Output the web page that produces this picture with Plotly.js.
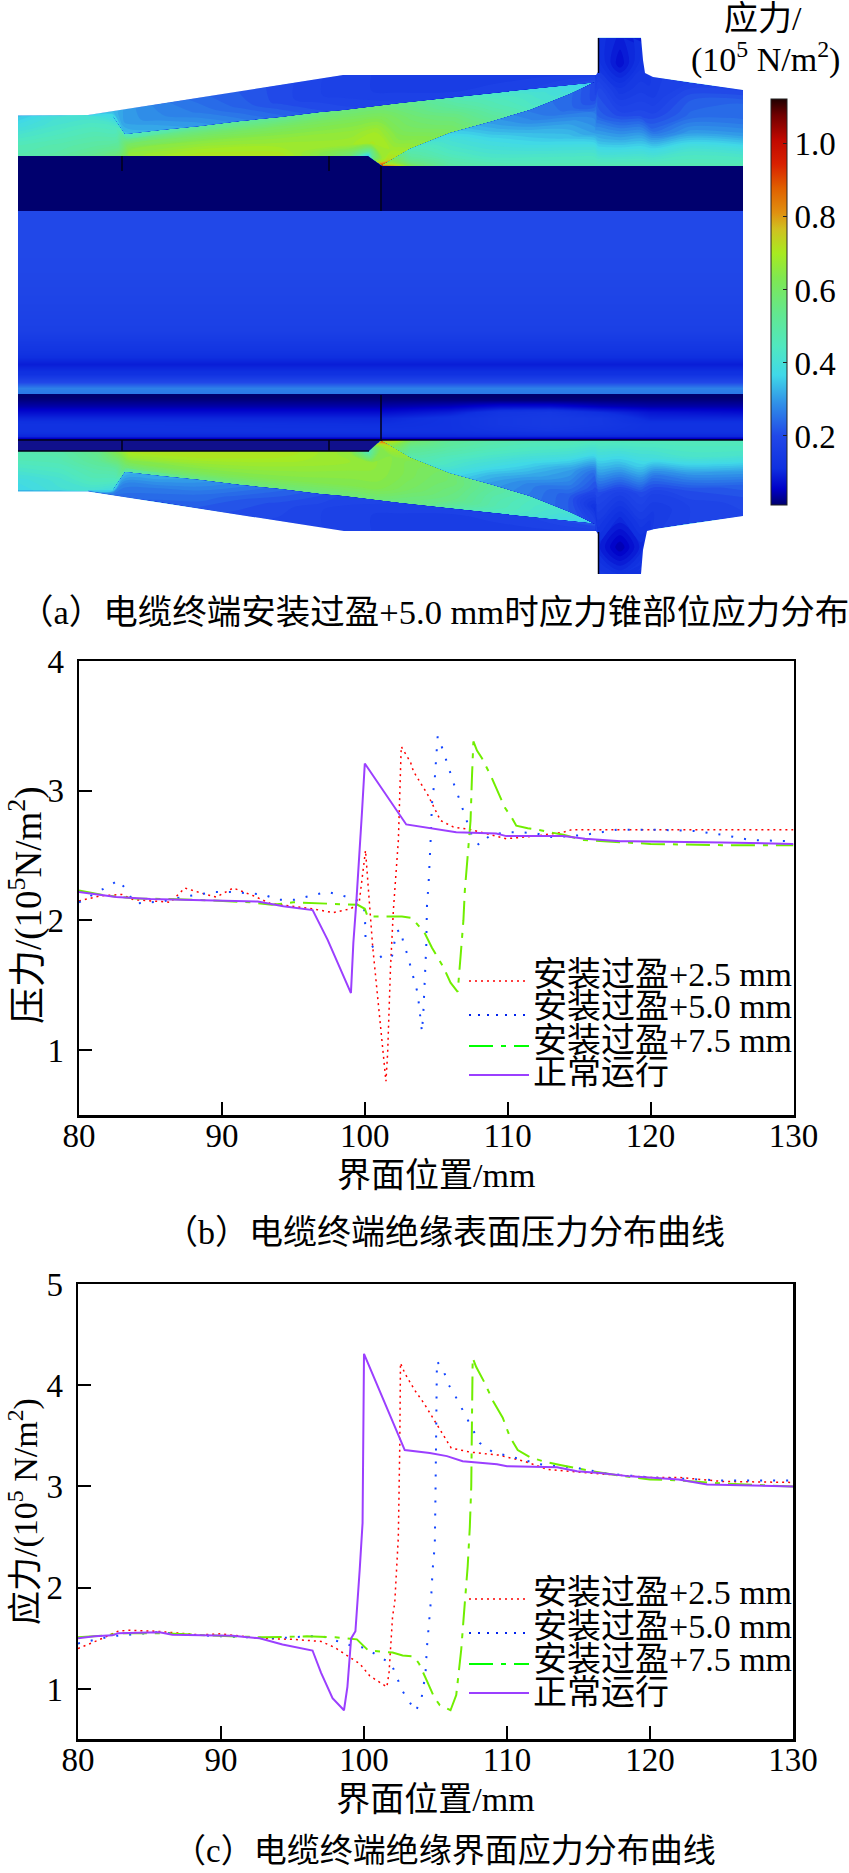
<!DOCTYPE html>
<html>
<head>
<meta charset="utf-8">
<script src="https://cdn.plot.ly/plotly-3.0.1.min.js"></script>
<style>body{margin:0;background:#fff}</style>
</head>
<body>
<div id="chart" style="width:849px;height:1873px"></div>
<script>
// curve data, panel b (pressure)
const pressX25 = [80,81.5,83,83.8,86.4,87.4,88.9,89.6,90.8,92.2,93.4,96.3,97.8,99,99.6,100.05,100.55,101.05,101.48,101.6,101.8,102,102.35,102.55,103.2,103.4,104.4,105.3,106.2,107.4,108.8,109.9,111.9,113.9,114.5,120,130];
const pressY25 = [2.15,2.19,2.2,2.16,2.14,2.25,2.2,2.18,2.25,2.19,2.13,2.09,2.06,2.09,2.13,2.54,1.8,1.27,0.76,0.98,1.64,2.08,2.62,3.34,3.22,3.15,2.97,2.77,2.72,2.7,2.66,2.63,2.65,2.68,2.7,2.7,2.7];
const pressX50 = [80,81,81.9,82.8,83.4,83.9,85,86,87.2,88.3,89.5,90.6,91.8,92.9,93.9,95.1,96.2,97.4,98.5,99.6,100,100.05,100.6,101.2,101.9,102.05,102.2,102.5,102.7,103,103.2,103.45,103.7,103.8,103.9,104,104.1,104.2,104.3,104.35,104.47,104.6,104.7,104.9,105,105.1,105.45,105.7,106,106.3,106.6,106.9,107.2,107.5,108,108.8,109.9,111,112,113.2,115.4,116.6,117.7,120,123,125,127,130];
const pressY50 = [2.14,2.2,2.25,2.31,2.22,2.13,2.14,2.15,2.18,2.2,2.22,2.22,2.21,2.2,2.16,2.16,2.19,2.22,2.19,2.15,2.07,1.87,1.79,1.71,1.72,1.82,1.91,1.93,1.83,1.73,1.64,1.54,1.44,1.34,1.24,1.14,1.3,1.6,1.8,2.11,2.3,2.6,2.9,3.1,3.3,3.42,3.32,3.23,3.13,3.03,2.94,2.84,2.75,2.65,2.58,2.66,2.68,2.68,2.67,2.64,2.66,2.68,2.7,2.7,2.69,2.66,2.62,2.61];
const pressX75 = [80,82,84,88,92,93.5,95,97,99.5,100,100.2,101.9,102.6,103.3,103.7,104.2,104.7,105.5,106,106.5,106.7,106.9,107,107.2,107.4,107.5,107.6,107.85,108.2,108.8,109.35,109.8,110.3,110.6,111.4,112.1,112.95,113.9,115.3,116.9,117.9,120,125,130];
const pressY75 = [2.23,2.19,2.17,2.16,2.14,2.12,2.14,2.13,2.12,2.09,2.03,2.03,2.03,2.02,1.97,1.9,1.79,1.64,1.52,1.45,1.72,2,2.23,2.52,2.77,3.11,3.38,3.31,3.25,3.12,2.98,2.87,2.79,2.73,2.71,2.7,2.68,2.66,2.62,2.61,2.6,2.59,2.58,2.58];
const pressXNormal = [80,82.6,85,90.3,92.5,94.3,96.35,97.4,97.6,99.03,99.2,99.4,99.8,100,102.9,104.1,106.4,109.2,109.9,113.9,115.4,117.9,118.6,125,130];
const pressYNormal = [2.22,2.18,2.165,2.15,2.145,2.11,2.08,1.85,1.8,1.44,1.83,2.13,2.83,3.21,2.74,2.72,2.68,2.67,2.65,2.65,2.63,2.61,2.61,2.6,2.59];

// curve data, panel c (stress)
const stressX25 = [80,81.3,82.8,83.5,85.5,88.5,90,92.7,95,97,97.95,99,99.7,100.4,101.6,101.75,102,102.15,102.4,102.5,102.55,102.85,103.55,104.2,105.2,105.7,106.1,107.4,109.4,111.2,111.6,112.8,113.5,116,120,122,125,130];
const stressY25 = [1.4,1.475,1.57,1.58,1.57,1.535,1.545,1.5,1.49,1.47,1.41,1.31,1.25,1.13,1.02,1.16,1.72,1.85,2.5,3.39,4.22,4.12,3.95,3.82,3.59,3.47,3.38,3.34,3.31,3.25,3.23,3.17,3.16,3.13,3.09,3.09,3.05,3.04];
const stressX50 = [80,81.2,82.3,85.5,88.5,93.75,96.1,97.1,98.2,99.3,100,101,101.9,102.3,102.6,103.1,103.6,104,104.3,104.4,104.55,104.7,104.8,104.95,105,105.1,105.6,105.9,106.4,106.8,107.25,107.7,108.1,109,110.1,111.2,112.3,113.5,114.6,115.8,116.8,120,125,130];
const stressY50 = [1.45,1.49,1.52,1.56,1.53,1.5,1.52,1.52,1.47,1.42,1.41,1.33,1.25,1.12,1,0.89,0.78,0.89,1.15,1.41,1.65,1.91,2.18,2.42,2.93,4.24,4.13,4.01,3.89,3.78,3.66,3.54,3.43,3.34,3.3,3.26,3.22,3.2,3.19,3.16,3.13,3.09,3.06,3.06];
const stressX75 = [80,82,83,86,89,93,96,98,99.5,100.3,102,102.7,103.5,103.85,104.4,104.9,105.3,106.05,106.45,106.8,106.95,107.1,107.25,107.4,107.5,107.55,107.6,107.85,108.45,109,109.7,110.2,110.75,111.6,112.5,113.8,115.6,117.7,120,122,125,130];
const stressY75 = [1.51,1.53,1.55,1.55,1.53,1.51,1.52,1.51,1.49,1.38,1.36,1.33,1.32,1.25,1.08,0.92,0.84,0.79,0.94,1.39,1.67,1.91,2.21,2.6,3,3.66,4.27,4.18,4.02,3.85,3.68,3.49,3.36,3.29,3.25,3.21,3.16,3.11,3.07,3.06,3.03,3];
const stressXNormal = [80,81.15,82.4,82.8,85.7,86.6,90.8,92.7,94.3,96.4,97,97.8,98.6,98.84,99.1,99.4,99.7,99.9,100,102.85,104.6,105.8,106.9,109.3,110,113.5,114.9,116.7,118.6,122,124,130];
const stressYNormal = [1.5,1.52,1.53,1.55,1.56,1.535,1.525,1.5,1.44,1.38,1.16,0.91,0.79,1.02,1.5,1.57,2.18,2.64,4.31,3.36,3.33,3.3,3.25,3.22,3.2,3.19,3.15,3.13,3.1,3.07,3.02,3];

const seriesNames = ['安装过盈+2.5 mm','安装过盈+5.0 mm','安装过盈+7.5 mm','正常运行'];
const xTicks = [80,90,100,110,120,130];
const pressTicks = [1,2,3,4];
const stressTicks = [1,2,3,4,5];
const barTicks = [0.2,0.4,0.6,0.8,1.0];

// stress field of panel a. Each region of the cone gets its own carpet (image coords),
// so the sharp wedge edges stay sharp. Rows run from the outer edge to the band side.
const wedgeRows = [0,.25,.5,.75,.92,1];
const wedgeOuterX = [18,60,88,113,125,200,280,350,385,420,460,500,540,570,595];
const wedgeOuterY = [115.5,115.5,115,116,134,126,117,109,105,101,97,92.5,88,85,82];
const wedgeInnerX = [18,60,100,120,130,200,280,350,368,383,450,490,530,570,595];
const wedgeInnerY = [156,156,156,156,156,156,156,156,156,166,133,122,110,94,82];
const wedgeZUpper = [
 [.34,.4,.4,.36,.44,.5,.52,.56,.56,.52,.46,.42,.38,.36,.33],
 [.38,.42,.44,.43,.54,.58,.6,.62,.62,.58,.5,.45,.41,.38,.34],
 [.42,.45,.47,.47,.6,.64,.65,.66,.68,.62,.55,.47,.42,.38,.34],
 [.46,.48,.5,.52,.64,.68,.68,.68,.7,.68,.58,.5,.43,.39,.35],
 [.47,.49,.53,.56,.66,.7,.7,.6,.5,.72,.6,.52,.44,.4,.36],
 [.48,.5,.54,.58,.66,.71,.71,.58,.34,.95,.62,.5,.44,.4,.36]
];
const wedgeZLower = [
 [.36,.4,.4,.38,.48,.54,.56,.56,.56,.54,.48,.44,.4,.37,.33],
 [.38,.41,.45,.45,.58,.62,.63,.63,.63,.6,.54,.47,.42,.38,.34],
 [.42,.44,.48,.5,.63,.66,.66,.65,.65,.63,.56,.48,.43,.39,.34],
 [.46,.47,.52,.58,.68,.7,.69,.67,.66,.64,.58,.5,.44,.4,.35],
 [.47,.48,.54,.64,.7,.71,.71,.66,.5,.7,.58,.51,.45,.4,.36],
 [.48,.49,.55,.66,.7,.71,.71,.66,.4,.92,.6,.5,.45,.4,.36]
];

const capRows = [0,.5,1];
const capX = [88,113,125,160,200,240,280,320,343,400,460,530,598];
const capOuterY = [115,111,109,104,97.5,91,85,78.6,75,75,75,75,75];
const capInnerY = [116,116,134,130,126,121,117,112,110,103,96.5,89,82];
const capZUpper = [
 [.36,.33,.3,.27,.24,.22,.2,.18,.17,.16,.16,.16,.17],
 [.36,.34,.3,.28,.26,.23,.2,.18,.17,.16,.16,.17,.19],
 [.37,.38,.34,.32,.3,.27,.24,.21,.2,.18,.17,.18,.22]
];
const capZLower = [
 [.3,.25,.24,.23,.22,.2,.19,.18,.17,.16,.16,.16,.17],
 [.32,.28,.27,.26,.25,.22,.2,.18,.17,.16,.16,.17,.19],
 [.37,.36,.34,.32,.3,.27,.24,.21,.19,.18,.17,.18,.24]
];

const flankRows = [0,.2,.4,.6,.8,1];
const flankX = [383,410,450,490,530,570,595,598,620,641,653,690,743];
const flankOuterYUpper = [165,149,133,122,110,94,82,38,38,38,77,83,90];
const flankInnerYUpper = [166,166,166,166,166,166,166,166,166,166,166,166,166];
const flankOuterYLower = [441,457,473,484,496,512,524,574,574,574,529,523,516];
const flankInnerYLower = [440,440,440,440,440,440,440,440,440,440,440,440,440];
const flankZUpper = [
 [.7,.45,.36,.3,.26,.24,.2,.12,.09,.12,.16,.18,.19],
 [.72,.48,.4,.33,.28,.24,.2,.13,.07,.13,.16,.22,.24],
 [.74,.5,.42,.37,.33,.3,.27,.2,.14,.16,.19,.24,.25],
 [.76,.52,.44,.4,.37,.34,.3,.23,.2,.2,.24,.3,.3],
 [.8,.56,.47,.43,.42,.41,.4,.33,.32,.33,.36,.41,.4],
 [.9,.62,.5,.48,.47,.47,.47,.47,.47,.47,.47,.47,.47]
];
const flankZLower = [
 [.7,.47,.38,.3,.26,.22,.18,.15,.12,.15,.16,.18,.19],
 [.72,.5,.42,.33,.27,.22,.12,.1,.04,.1,.15,.18,.2],
 [.74,.52,.44,.38,.32,.27,.2,.15,.1,.15,.18,.21,.23],
 [.76,.54,.47,.42,.37,.31,.24,.2,.17,.2,.26,.3,.31],
 [.8,.57,.5,.46,.43,.4,.36,.33,.32,.35,.39,.42,.42],
 [.9,.62,.52,.49,.47,.47,.46,.46,.46,.46,.46,.46,.46]
];

// flat backing under the carpets, it shows only in the seams between them
const backX = [18,19,742,743];
const backY = [38,39,573,574];
const backZ = [[.33,.33,.33,.33],[.33,.33,.33,.33],[.33,.33,.33,.33],[.33,.33,.33,.33]];
const coreX = [18,19,742,743];
const coreY = [212,250,290,330,350,364,374,382,388,393,395];
const coreZ = [
 [.2,.2,.2,.2],[.2,.2,.2,.2],[.19,.19,.19,.19],[.17,.17,.17,.17],[.13,.13,.13,.13],[.09,.09,.09,.09],
 [.12,.12,.12,.12],[.2,.2,.2,.2],[.27,.27,.27,.27],[.26,.26,.26,.26],[.2,.2,.2,.2]
];
const sheathX = [18,381,450,500,550,600,650,742,743];
const sheathY = [396,400,406,412,418,424,430,436,439.5];
const sheathZ = [
 [.01,.01,.01,.01,.01,.01,.01,.01,.01],
 [.02,.02,.02,.02,.02,.02,.02,.02,.02],
 [.04,.04,.05,.07,.07,.05,.04,.04,.04],
 [.07,.07,.09,.13,.14,.11,.08,.07,.07],
 [.1,.1,.12,.14,.15,.14,.1,.1,.1],
 [.12,.11,.12,.14,.15,.14,.12,.12,.12],
 [.12,.12,.12,.13,.14,.13,.12,.12,.12],
 [.1,.1,.1,.1,.1,.1,.1,.1,.1],
 [.01,.01,.01,.01,.01,.01,.01,.01,.01]
];
const semiconX = [18,368,382,743,743,18,18];
const semiconY = [156,156,166,166,211,211,156];
const thinBandX = [18,381,369,18,18];
const thinBandY = [440,440,451,451,440];
const maskTopX = [5,760,760,743,653,645,643,641,598,598,596,343,88,18,5,5];
const maskTopY = [25,25,90,90,77,73,60,37.5,37.5,72,75,75,115,115.5,115.5,25];
const maskBottomX = [5,18,88,344,596,598,598,641,643,647,655,743,760,760,5,5];
const maskBottomY = [491.5,491.5,491.5,531,531,534,574,574,550,531,529,516,516,590,590,491.5];
const maskLeftX = [0,18,18,0,0];
const maskLeftY = [25,25,590,590,25];
const maskRightX = [743,770,770,743,743];
const maskRightY = [25,25,590,590,25];
const seamX = [381,381,null,381,381,null,122,122,null,329,329,null,122,122,null,329,329,null,18,743,null,18,369,null,598.5,598.5,null,598.5,598.5];
const seamY = [166,211,null,395,440,null,156,171,null,156,171,null,440,451,null,440,451,null,440,440,null,451,451,null,38,73,null,532,574];

const fieldMin = 0.011, fieldMax = 1.123;
const fieldScale = [
 [0,'#00006e'],[0.04,'#0000c8'],[0.09,'#0f30e0'],[0.17,'#2148e8'],[0.25,'#3090e8'],
 [0.32,'#40d8e8'],[0.39,'#50e8c0'],[0.47,'#62e890'],[0.56,'#80e850'],[0.62,'#a8ea20'],
 [0.68,'#d0c020'],[0.72,'#e09010'],[0.78,'#e06000'],[0.84,'#d82000'],[0.9,'#c00800'],
 [0.96,'#700000'],[1,'#200000']
];

const W = 849, H = 1873;
const px = v => v / W;
const py = v => 1 - v / H;
const mirrorY = v => 606 - v;
const textFont = 'Liberation Serif, "Noto Sans CJK SC", serif';

function label(text, x, y, size, anchor, angle) {
    return {
        text: text, xref: 'paper', yref: 'paper', x: px(x), y: py(y),
        xanchor: anchor || 'center', yanchor: 'middle', showarrow: false,
        textangle: angle || 0, font: { family: textFont, size: size, color: '#000' }
    };
}

function legendShape(y, color, dash, width) {
    return {
        type: 'line', xref: 'paper', yref: 'paper', x0: px(469), x1: px(529), y0: py(y), y1: py(y),
        line: { color: color, dash: dash, width: width }
    };
}

function curve(x, y, name, color, dash, width, xa, ya) {
    return {
        x: x, y: y, name: name, xaxis: xa, yaxis: ya, type: 'scatter', mode: 'lines',
        line: { color: color, dash: dash, width: width, shape: 'linear' }, showlegend: false
    };
}

function polygon(x, y, color) {
    return {
        x: x, y: y, xaxis: 'x3', yaxis: 'y3', type: 'scatter', mode: 'lines', fill: 'toself',
        fillcolor: color, line: { width: 0 }, hoverinfo: 'skip', showlegend: false
    };
}

function field(x, y, z, colorbar) {
    return {
        x: x, y: y, z: z, xaxis: 'x3', yaxis: 'y3', type: 'heatmap', zsmooth: 'best', colorscale: fieldScale,
        zmin: fieldMin, zmax: fieldMax, showscale: !!colorbar, colorbar: colorbar, hoverinfo: 'skip'
    };
}

// carpet + filled contour for one region bounded by an outer and an inner edge
function region(id, rows, outerX, outerY, innerX, innerY, z) {
    const stations = outerX.map((_, i) => i);
    const gridX = rows.map(b => outerX.map((x, i) => x + (innerX[i] - x) * b));
    const gridY = rows.map(b => outerY.map((y, i) => y + (innerY[i] - y) * b));
    const hidden = { startline: false, endline: false, showticklabels: 'none', showgrid: false, minorgridcount: 0, smoothing: 0, tickmode: 'array', tickvals: [] };
    return [
        { type: 'carpet', carpet: id, a: stations, b: rows, x: gridX, y: gridY, xaxis: 'x3', yaxis: 'y3', aaxis: hidden, baxis: hidden, hoverinfo: 'skip' },
        {
            type: 'contourcarpet', carpet: id, a: stations, b: rows, z: z, xaxis: 'x3', yaxis: 'y3', showscale: false,
            autocontour: false, contours: { start: fieldMin, end: fieldMax, size: 0.014, coloring: 'fill', showlines: false },
            autocolorscale: false, colorscale: fieldScale, zauto: false, zmin: fieldMin, zmax: fieldMax,
            line: { width: 0 }, hoverinfo: 'skip'
        }
    ];
}

const fieldBar = {
    x: px(771), xanchor: 'left', xpad: 0, y: py(302), yanchor: 'middle', ypad: 0,
    thicknessmode: 'pixels', thickness: 16, lenmode: 'pixels', len: 406,
    tickvals: barTicks, ticktext: ['0.2','0.4','0.6','0.8','1.0'], ticks: 'inside', ticklen: 4, tickcolor: '#222', tickwidth: 1,
    outlinecolor: '#222', outlinewidth: 1, tickfont: { family: textFont, size: 33, color: '#000' }
};

const redDash = '2px,4px', blueDash = '2px,11px', greenDash = '24px,8px,5px,8px';
const traces = [
    field(backX, backY, backZ),
    field(coreX, coreY, coreZ, fieldBar),
    field(sheathX, sheathY, sheathZ),
    ...region('wedgeU', wedgeRows, wedgeOuterX, wedgeOuterY, wedgeInnerX, wedgeInnerY, wedgeZUpper),
    ...region('capU', capRows, capX, capOuterY, capX, capInnerY, capZUpper),
    ...region('flankU', flankRows, flankX, flankOuterYUpper, flankX, flankInnerYUpper, flankZUpper),
    ...region('wedgeL', wedgeRows, wedgeOuterX, wedgeOuterY.map(mirrorY), wedgeInnerX, wedgeInnerY.map(mirrorY), wedgeZLower),
    ...region('capL', capRows, capX, capOuterY.map(mirrorY), capX, capInnerY.map(mirrorY), capZLower),
    ...region('flankL', flankRows, flankX, flankOuterYLower, flankX, flankInnerYLower, flankZLower),
    polygon(semiconX, semiconY, '#00006e'),
    polygon(thinBandX, thinBandY, '#10108c'),
    polygon(maskTopX, maskTopY, '#ffffff'),
    polygon(maskBottomX, maskBottomY, '#ffffff'),
    polygon(maskLeftX, maskLeftY, '#ffffff'),
    polygon(maskRightX, maskRightY, '#ffffff'),
    { x: seamX, y: seamY, xaxis: 'x3', yaxis: 'y3', type: 'scatter', mode: 'lines', line: { color: '#000018', width: 1.5 }, hoverinfo: 'skip', showlegend: false, connectgaps: false },
    curve(pressX25, pressY25, seriesNames[0], '#ff0000', redDash, 1.5, 'x', 'y'),
    curve(pressX50, pressY50, seriesNames[1], '#1144ff', blueDash, 2, 'x', 'y'),
    curve(pressX75, pressY75, seriesNames[2], '#70ee00', greenDash, 2, 'x', 'y'),
    curve(pressXNormal, pressYNormal, seriesNames[3], '#9b3fff', 'solid', 2, 'x', 'y'),
    curve(stressX25, stressY25, seriesNames[0], '#ff0000', redDash, 1.5, 'x2', 'y2'),
    curve(stressX50, stressY50, seriesNames[1], '#1144ff', blueDash, 2, 'x2', 'y2'),
    curve(stressX75, stressY75, seriesNames[2], '#70ee00', greenDash, 2, 'x2', 'y2'),
    curve(stressXNormal, stressYNormal, seriesNames[3], '#9b3fff', 'solid', 2, 'x2', 'y2')
];

function xAxis(left, right, anchor) {
    return {
        domain: [px(left), px(right)], range: [80, 130], anchor: anchor, tickvals: xTicks, ticks: 'inside', ticklen: 13, tickwidth: 2,
        tickcolor: '#000', showline: true, mirror: true, linewidth: 2.5, linecolor: '#000', showgrid: false, zeroline: false,
        ticklabelstandoff: -10, tickfont: { family: textFont, size: 33, color: '#000' },
        title: { text: '界面位置/mm', font: { family: textFont, size: 34, color: '#000' }, standoff: 10 }
    };
}

function yAxis(top, bottom, range, ticks, anchor) {
    return {
        domain: [py(bottom), py(top)], range: range, anchor: anchor, tickvals: ticks, ticks: 'inside', ticklen: 13, tickwidth: 2,
        tickcolor: '#000', showline: true, mirror: true, linewidth: 2.5, linecolor: '#000', showgrid: false, zeroline: false,
        ticklabelstandoff: 6, tickfont: { family: textFont, size: 33, color: '#000' }
    };
}

const layout = {
    width: W, height: H, paper_bgcolor: '#fff', plot_bgcolor: 'rgba(0,0,0,0)', showlegend: false,
    margin: { l: 0, r: 0, t: 0, b: 0, autoexpand: false },
    xaxis: xAxis(79, 793.5, 'y'),
    yaxis: yAxis(661, 1115, [0.5, 4], pressTicks, 'x'),
    xaxis2: xAxis(78, 793, 'y2'),
    yaxis2: yAxis(1284, 1739, [0.506, 5], stressTicks, 'x2'),
    xaxis3: { domain: [0, 1], range: [0, W], anchor: 'y3', visible: false },
    yaxis3: { domain: [0, 1], range: [H, 0], anchor: 'x3', visible: false },
    shapes: [
        legendShape(981, '#ff0000', redDash, 1.5),
        legendShape(1015, '#0022ee', '2px,7px', 2),
        legendShape(1046, '#00ff00', greenDash, 2),
        legendShape(1075, '#9b3fff', 'solid', 2),
        legendShape(1599, '#ff0000', redDash, 1.5),
        legendShape(1633, '#0022ee', '2px,7px', 2),
        legendShape(1664, '#00ff00', greenDash, 2),
        legendShape(1693, '#9b3fff', 'solid', 2)
    ],
    annotations: [
        label('应力/', 763, 19, 34),
        label('(10<sup>5</sup> N/m<sup>2</sup>)', 765, 58, 34),
        label('（a）电缆终端安装过盈+5.0 mm时应力锥部位应力分布', 434, 612, 34.5),
        label('压力/(10<sup>5</sup>N/m<sup>2</sup>)', 26, 905, 37, 'center', -90),
        label('应力/(10<sup>5</sup> N/m<sup>2</sup>)', 23, 1512, 34, 'center', -90),
        label('（b）电缆终端绝缘表面压力分布曲线', 445, 1232, 34),
        label('（c）电缆终端绝缘界面应力分布曲线', 445, 1851, 33),
        label(seriesNames[0], 531, 974, 34, 'left'),
        label(seriesNames[1], 531, 1007, 34, 'left'),
        label(seriesNames[2], 531, 1040, 34, 'left'),
        label(seriesNames[3], 531, 1072, 34, 'left'),
        label(seriesNames[0], 531, 1592, 34, 'left'),
        label(seriesNames[1], 531, 1626, 34, 'left'),
        label(seriesNames[2], 531, 1659, 34, 'left'),
        label(seriesNames[3], 531, 1692, 34, 'left')
    ]
};

Plotly.newPlot('chart', traces, layout, { displayModeBar: false, staticPlot: true });
</script>
</body>
</html>
